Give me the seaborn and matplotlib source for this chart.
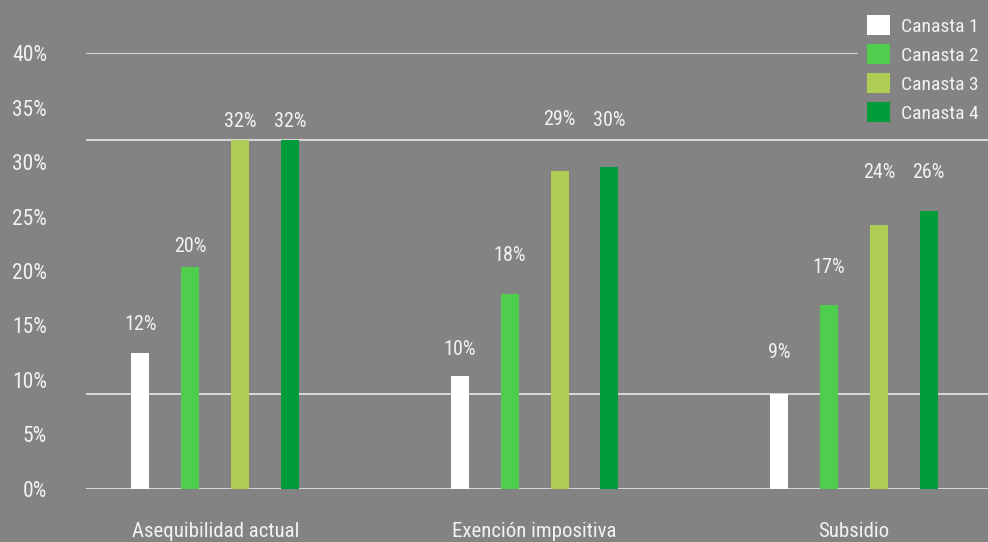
import matplotlib
matplotlib.use("Agg")
import matplotlib.pyplot as plt
import pandas as pd
import seaborn as sns

CATEGORIES = ["Asequibilidad actual", "Exención impositiva", "Subsidio"]
SERIES = ["Canasta 1", "Canasta 2", "Canasta 3", "Canasta 4"]

# bar heights as drawn (percent) and the labels printed above them
CANASTA_1 = [12.5, 10.4, 8.7]
CANASTA_2 = [20.4, 17.9, 16.9]
CANASTA_3 = [32.0, 29.2, 24.2]
CANASTA_4 = [32.0, 29.5, 25.5]
LABELS = [
    ["12%", "20%", "32%", "32%"],
    ["10%", "18%", "29%", "30%"],
    ["9%", "17%", "24%", "26%"],
]
Y_TICKS = [0, 5, 10, 15, 20, 25, 30, 35, 40]

# label distance above each bar top, pixels (the original is hand placed)
LABEL_OFFSETS = [
    [28, 20, 19, 19],
    [26, 38, 51, 47],
    [42, 37, 53, 39],
]

BG = "#828382"
TEXT = "#f2f2f2"
LINE = "#d9d9d9"
PALETTE = {
    "Canasta 1": "#ffffff",
    "Canasta 2": "#4fcd4c",
    "Canasta 3": "#afcd55",
    "Canasta 4": "#009c3b",
}


def main() -> None:
    sns.set_theme(style="white")
    plt.rcParams["font.family"] = ["Roboto Condensed", "Roboto", "DejaVu Sans"]

    records = []
    for series, vals in zip(SERIES, [CANASTA_1, CANASTA_2, CANASTA_3, CANASTA_4]):
        for cat, v in zip(CATEGORIES, vals):
            records.append({"category": cat, "series": series, "value": v})
    df = pd.DataFrame(records)

    fig = plt.figure(figsize=(9.88, 5.42), dpi=100, facecolor=BG)
    ax = fig.add_axes([0.087, 0.0978, 0.913, 0.8044])
    ax.set_facecolor(BG)

    # reference lines: baseline, lowest bar, highest bar, top of scale
    for y in [0, min(CANASTA_1), max(CANASTA_3 + CANASTA_4), Y_TICKS[-1]]:
        ax.axhline(y, color=LINE, linewidth=1.4, zorder=0)

    sns.barplot(
        data=df,
        x="category",
        y="value",
        hue="series",
        order=CATEGORIES,
        hue_order=SERIES,
        palette=PALETTE,
        width=0.625,
        gap=0.64,
        saturation=1,
        linewidth=0,
        ax=ax,
        zorder=2,
    )

    # value labels above the bars
    for j, container in enumerate(ax.containers):
        for i, bar in enumerate(container):
            x = bar.get_x() + bar.get_width() / 2
            ax.annotate(
                LABELS[i][j],
                xy=(x, bar.get_height()),
                xytext=(0, LABEL_OFFSETS[i][j]),
                textcoords="offset pixels",
                ha="center",
                va="center",
                color=TEXT,
                fontsize=14.5,
            )

    ax.set_xlim(-0.405, 2.42)
    ax.set_ylim(0, 40)
    ax.set_yticks(Y_TICKS)
    ax.set_yticklabels([f"{t}%" for t in Y_TICKS])
    ax.set_xlabel("")
    ax.set_ylabel("")
    ax.tick_params(axis="y", length=0, pad=28, labelsize=15.5, labelcolor=TEXT)
    ax.tick_params(axis="x", length=0, pad=24, labelsize=15, labelcolor=TEXT)
    for side in ["top", "right", "left", "bottom"]:
        ax.spines[side].set_visible(False)

    handles, labels = ax.get_legend_handles_labels()
    ax.get_legend().remove()
    leg = fig.legend(
        handles,
        labels,
        loc="upper right",
        bbox_to_anchor=(1.0, 0.99),
        frameon=True,
        facecolor=BG,
        edgecolor=BG,
        framealpha=1,
        fontsize=14,
        handlelength=1.2,
        handleheight=1.2,
        handletextpad=0.55,
        labelspacing=0.44,
        borderpad=0.45,
        borderaxespad=0.05,
    )
    for t in leg.get_texts():
        t.set_color(TEXT)

    fig.savefig("out.png", dpi=100, facecolor=BG)
    plt.close(fig)


if __name__ == "__main__":
    main()
